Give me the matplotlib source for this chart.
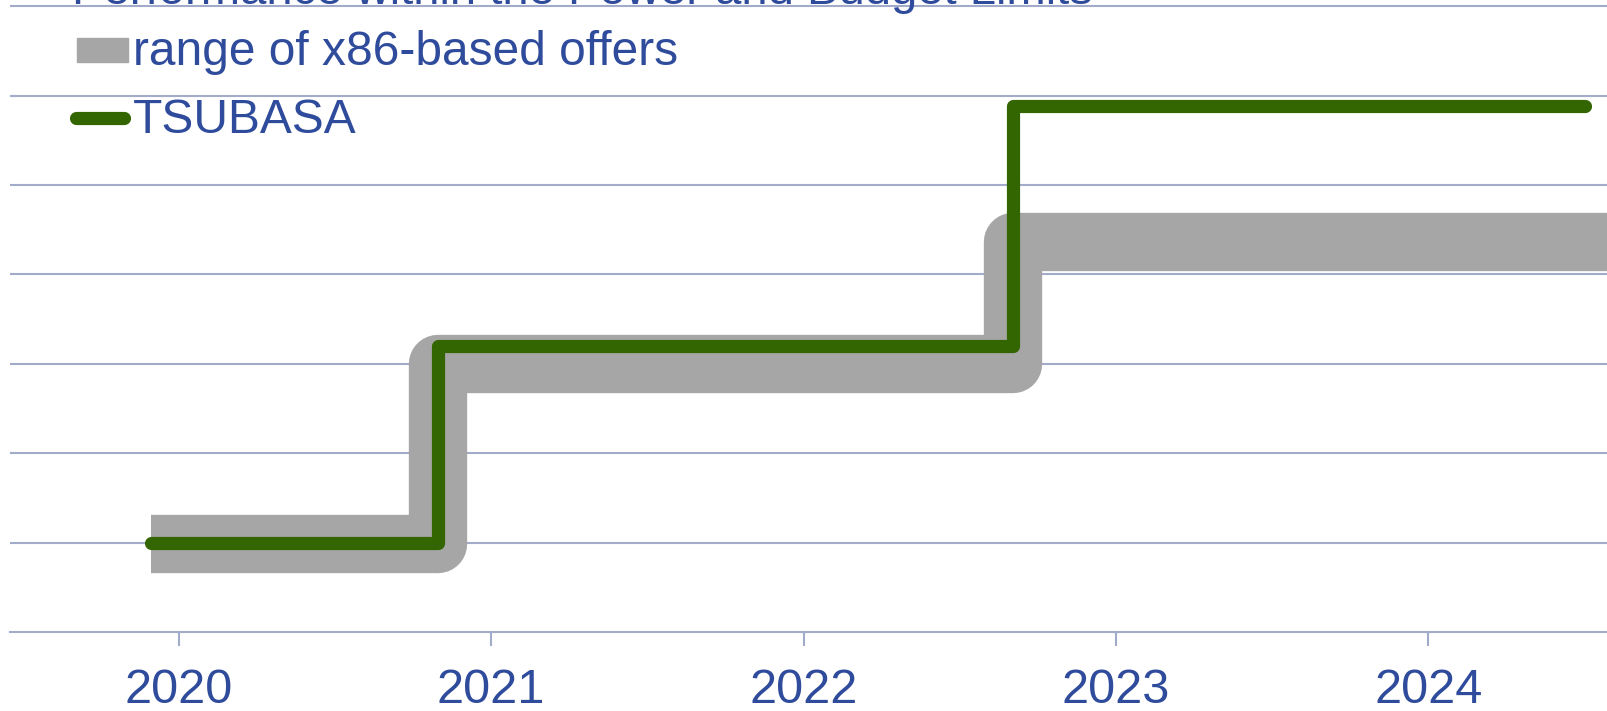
import matplotlib.pyplot as plt
from matplotlib.lines import Line2D
from matplotlib.patches import Rectangle

# %%

years = [2020, 2021, 2022, 2023, 2024]

x86_x = [2019.91, 2020.83, 2022.67, 2024.75]
x86_y = [0.98, 3.0, 4.36, 4.36]

tsubasa_x = [2019.91, 2020.83, 2022.67, 2024.5]
tsubasa_y = [1.0, 3.2, 5.88, 5.88]

title = "Performance within the Power and Budget Limits"
labels = ["range of x86-based offers", "TSUBASA"]

text_color = "#2F4B9B"
grid_color = "#A3ABCB"
gray = "#A6A6A6"
green = "#336600"
font = "Liberation Sans"

# %%

fig = plt.figure(figsize=(16.08, 7.11), dpi=100, facecolor="w")
ax = fig.add_axes([10 / 1608, (711 - 632) / 711, 1 - 10 / 1608, 632 / 711])

ax.set_xlim(2019.46, 2024.575)
ax.set_ylim(0, 7.07)

for y in range(1, 8):
    ax.axhline(y, color=grid_color, lw=1.5, zorder=0)

ax.step(x86_x, x86_y, where="post", color=gray, lw=42,
        solid_joinstyle="round", solid_capstyle="butt", zorder=2)
ax.step(tsubasa_x, tsubasa_y, where="post", color=green, lw=9.5,
        solid_joinstyle="round", solid_capstyle="round", zorder=3)

for s in ["top", "right", "left"]:
    ax.spines[s].set_visible(False)
ax.spines["bottom"].set_color(grid_color)
ax.spines["bottom"].set_linewidth(1.5)

ax.set_yticks([])
ax.set_xticks(years, labels=[str(y) for y in years])
ax.tick_params(axis="x", direction="out", length=10, width=1.5, color=grid_color,
               pad=16, labelsize=35, labelcolor=text_color)
for t in ax.get_xticklabels():
    t.set_fontfamily(font)

# title, cut off at the top edge as in the original slide
fig.text(72 / 1608, 1 - 4 / 711, title, fontsize=34, color=text_color,
         family=font, va="baseline", ha="left", zorder=0)

# hand-made legend
fig.patches.append(Rectangle((77 / 1608, 1 - 62 / 711), 51 / 1608, 24 / 711,
                             transform=fig.transFigure, color=gray))
fig.text(133 / 1608, 1 - 65 / 711, labels[0], fontsize=34.5, color=text_color,
         family=font, va="baseline")
fig.lines.append(Line2D([76 / 1608, 124 / 1608], [1 - 118 / 711, 1 - 118 / 711],
                        transform=fig.transFigure, color=green, lw=9.5,
                        solid_capstyle="round"))
fig.text(133 / 1608, 1 - 133 / 711, labels[1], fontsize=34.5, color=text_color,
         family=font, va="baseline")

plt.savefig("out.png", facecolor="w", dpi=100)
